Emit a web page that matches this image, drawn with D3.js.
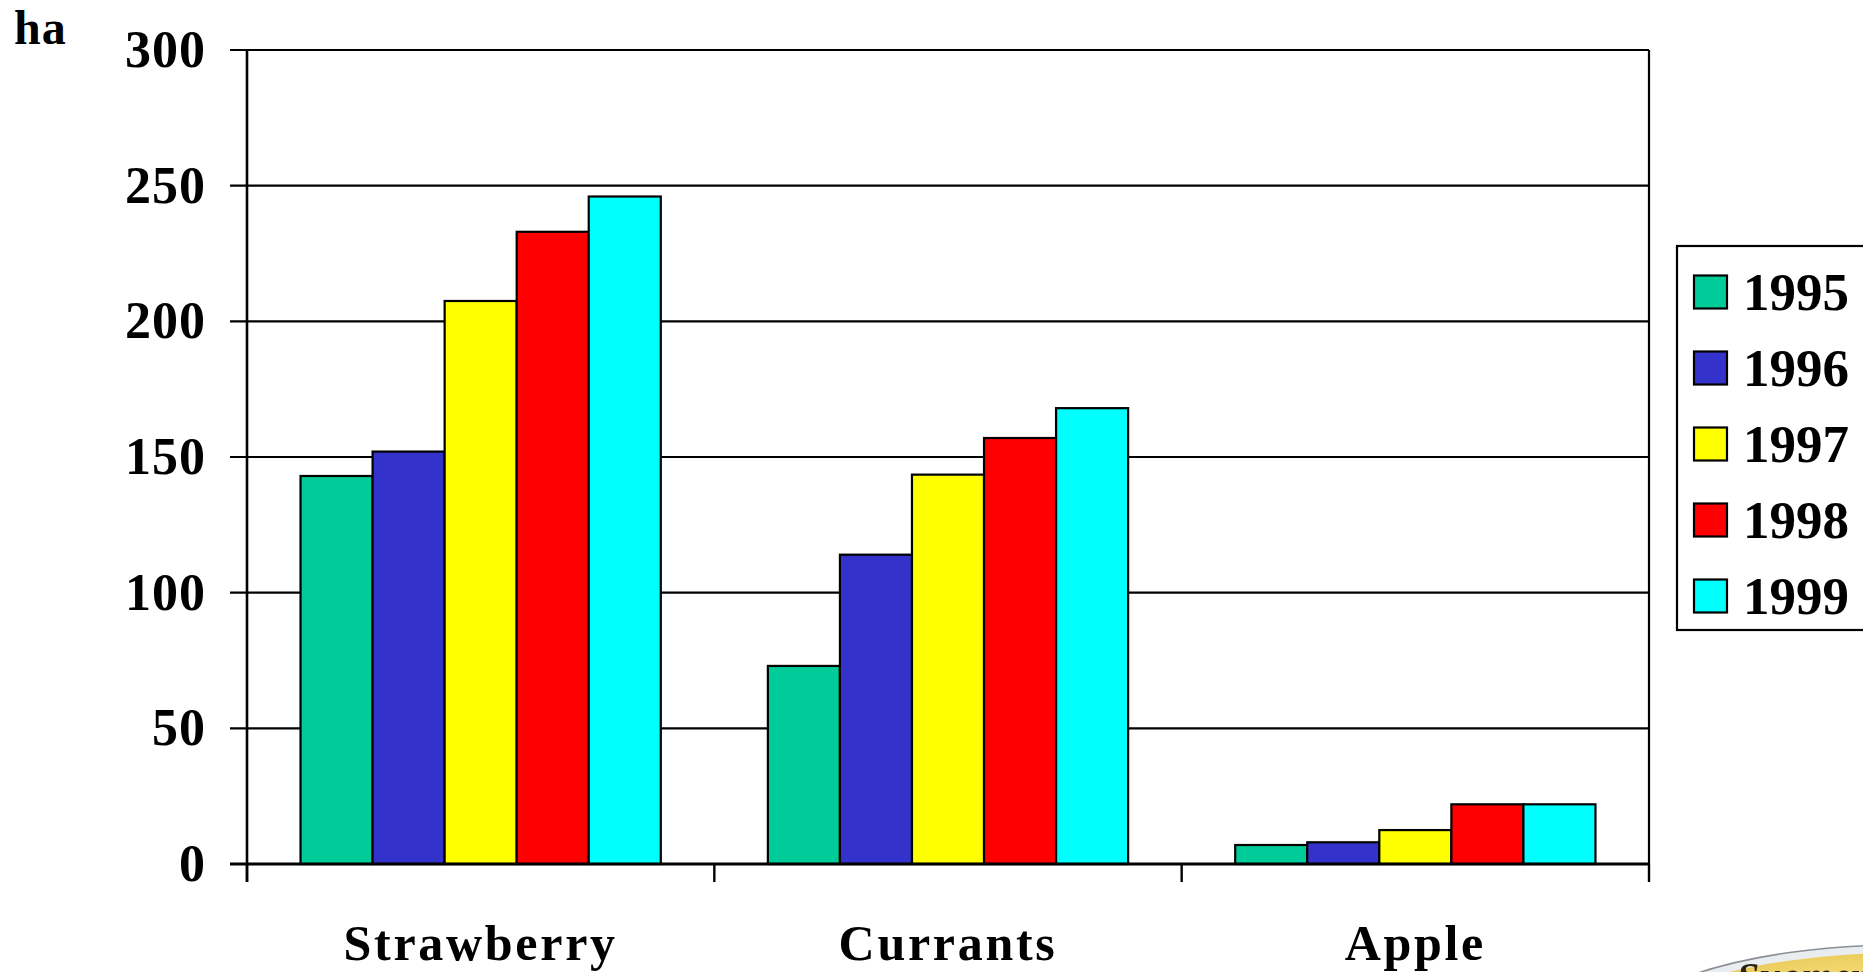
<!DOCTYPE html>
<html>
<head>
<meta charset="utf-8">
<script src="https://cdn.jsdelivr.net/npm/d3@7"></script>
<style>
  html, body { margin: 0; padding: 0; background: #fff; overflow: hidden; }
  svg { display: block; }
  text { font-family: "Liberation Serif", "Times New Roman", serif; font-weight: bold; fill: #000; }
</style>
</head>
<body>
<svg id="chart" width="1863" height="972"></svg>
<script>
// Cultivated area (ha) by crop and year
const categories = ["Strawberry", "Currants", "Apple"];
const years = ["1995", "1996", "1997", "1998", "1999"];
const area1995 = [143, 73, 7];
const area1996 = [152, 114, 8];
const area1997 = [207.5, 143.5, 12.5];
const area1998 = [233, 157, 22];
const area1999 = [246, 168, 22];
const yTicks = [0, 50, 100, 150, 200, 250, 300];
const unitLabel = "ha";

const seriesValues = [area1995, area1996, area1997, area1998, area1999];
const colors = ["#00CC99", "#3333CC", "#FFFF00", "#FF0000", "#00FFFF"];

const svg = d3.select("#chart");

const plot = { left: 247, right: 1649, top: 50, bottom: 864 };

const x0 = d3.scaleBand()
  .domain(categories)
  .range([plot.left, plot.right])
  .paddingInner(0)
  .paddingOuter(0);

const x1 = d3.scaleBand()
  .domain(years)
  .range([0, x0.bandwidth()])
  .paddingInner(0)
  .paddingOuter(0.743);

const y = d3.scaleLinear()
  .domain([0, 300])
  .range([plot.bottom, plot.top]);

// Horizontal gridlines with short outward ticks on the left
svg.append("g")
  .selectAll("line")
  .data(yTicks)
  .join("line")
  .attr("x1", plot.left - 17)
  .attr("x2", plot.right)
  .attr("y1", d => y(d))
  .attr("y2", d => y(d))
  .attr("stroke", "#000")
  .attr("stroke-width", 2.2);

// Value axis labels
svg.append("g")
  .selectAll("text")
  .data(yTicks)
  .join("text")
  .attr("x", 206)
  .attr("y", d => y(d) + 17)
  .attr("text-anchor", "end")
  .attr("font-size", 52)
  .attr("letter-spacing", 1)
  .text(d => d);

// Unit label
svg.append("text")
  .attr("x", 14)
  .attr("y", 44)
  .attr("font-size", 48)
  .attr("letter-spacing", 1)
  .text(unitLabel);

// Bars
const groups = svg.append("g")
  .selectAll("g")
  .data(categories)
  .join("g")
  .attr("transform", d => `translate(${x0(d)},0)`);

groups.selectAll("rect")
  .data((c, ci) => years.map((yr, si) => ({ yr, si, v: seriesValues[si][ci] })))
  .join("rect")
  .attr("x", d => x1(d.yr))
  .attr("y", d => y(d.v))
  .attr("width", x1.bandwidth())
  .attr("height", d => y(0) - y(d.v))
  .attr("fill", d => colors[d.si])
  .attr("stroke", "#000")
  .attr("stroke-width", 2.2);

// Axis frame: left axis, right border, baseline
svg.append("line")
  .attr("x1", plot.left).attr("x2", plot.left)
  .attr("y1", plot.top).attr("y2", plot.bottom + 18)
  .attr("stroke", "#000").attr("stroke-width", 2.6);
svg.append("line")
  .attr("x1", plot.right).attr("x2", plot.right)
  .attr("y1", plot.top).attr("y2", plot.bottom)
  .attr("stroke", "#000").attr("stroke-width", 2.2);
svg.append("line")
  .attr("x1", plot.left - 17).attr("x2", plot.right)
  .attr("y1", plot.bottom).attr("y2", plot.bottom)
  .attr("stroke", "#000").attr("stroke-width", 2.8);

// Category boundary ticks below the baseline
const boundaries = categories.map(c => x0(c)).concat([x0(categories[categories.length - 1]) + x0.bandwidth()]);
svg.append("g")
  .selectAll("line")
  .data(boundaries)
  .join("line")
  .attr("x1", d => d).attr("x2", d => d)
  .attr("y1", plot.bottom).attr("y2", plot.bottom + 18)
  .attr("stroke", "#000").attr("stroke-width", 2.4);

// Category labels
svg.append("g")
  .selectAll("text")
  .data(categories)
  .join("text")
  .attr("x", d => x0(d) + x0.bandwidth() / 2)
  .attr("y", 960)
  .attr("text-anchor", "middle")
  .attr("font-size", 50)
  .attr("letter-spacing", 2.7)
  .text(d => d);

// Legend
const legend = svg.append("g");
legend.append("rect")
  .attr("x", 1677).attr("y", 246)
  .attr("width", 220).attr("height", 384)
  .attr("fill", "#fff")
  .attr("stroke", "#000").attr("stroke-width", 2.2);

const legendRow = d3.scalePoint().domain(years).range([292, 596]);
const items = legend.selectAll("g.item")
  .data(years)
  .join("g")
  .attr("class", "item")
  .attr("transform", d => `translate(0,${legendRow(d)})`);
items.append("rect")
  .attr("x", 1694).attr("y", -16.5)
  .attr("width", 33).attr("height", 33)
  .attr("fill", (d, i) => colors[i])
  .attr("stroke", "#000").attr("stroke-width", 2.2);
items.append("text")
  .attr("x", 1743).attr("y", 18)
  .attr("font-size", 53)
  .text(d => d);

// Emblem in the lower right corner
const defs = svg.append("defs");
const grad = defs.append("radialGradient")
  .attr("id", "emblemFill")
  .attr("cx", "45%").attr("cy", "35%").attr("r", "65%");
grad.append("stop").attr("offset", "0%").attr("stop-color", "#fffbe0");
grad.append("stop").attr("offset", "35%").attr("stop-color", "#f3dc78");
grad.append("stop").attr("offset", "100%").attr("stop-color", "#d9a81c");
const emblem = svg.append("g").style("filter", "blur(0.6px)");
emblem.append("ellipse")
  .attr("cx", 1900).attr("cy", 1052)
  .attr("rx", 300).attr("ry", 107)
  .attr("fill", "#e9edf0")
  .attr("stroke", "#8a8f96").attr("stroke-width", 1.5);
emblem.append("ellipse")
  .attr("cx", 1900).attr("cy", 1054)
  .attr("rx", 292).attr("ry", 101)
  .attr("fill", "url(#emblemFill)");
emblem.append("text")
  .attr("x", 1737).attr("y", 990)
  .attr("font-size", 40)
  .attr("font-style", "italic")
  .attr("font-weight", "normal")
  .style("fill", "#2a2212")
  .text("Suomen");
</script>
</body>
</html>
